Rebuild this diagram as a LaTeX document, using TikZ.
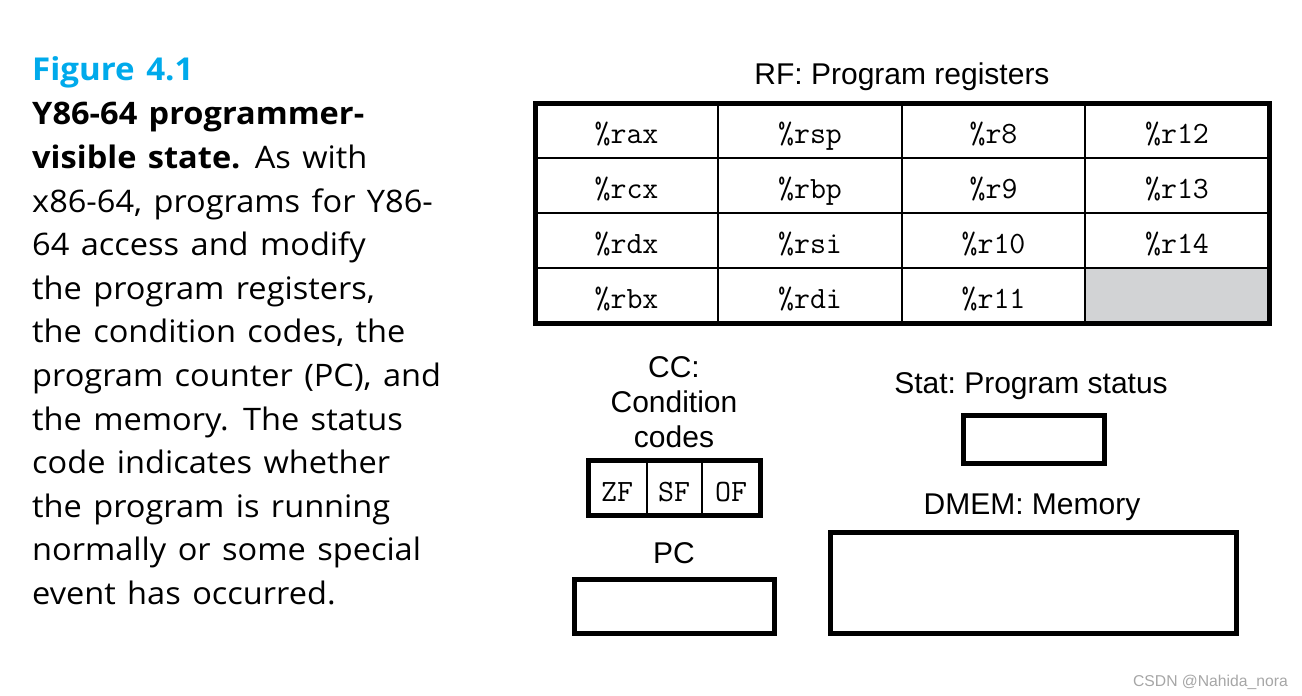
\documentclass[tikz,border=0pt]{standalone}
\usepackage{fontspec}
\usepackage{xcolor}
\usepackage{tikz}
\newfontfamily\capfont[WordSpace=1.35,FakeStretch=1.05]{Open Sans}
\newfontfamily\helv{Liberation Sans}
\definecolor{figcyan}{RGB}{0,170,235}
\definecolor{cellgray}{RGB}{210,211,213}

\begin{document}
\begin{tikzpicture}[x=1pt,y=-1pt,
    reg/.style={anchor=base,inner sep=0pt,font=\fontsize{31}{31}\selectfont\ttfamily},
    lbl/.style={anchor=base,inner sep=0pt,font=\fontsize{30}{35}\selectfont\helv\frenchspacing},
    frame/.style={draw,line width=5pt,inner sep=0pt},
    thin/.style={line width=1.8pt}]
      \useasboundingbox (0,0) rectangle (1302,696);
      % caption
      \node[anchor=base west,inner sep=0pt,text=figcyan,font=\fontsize{31.5}{31.5}\selectfont\capfont\bfseries] (figtitle) at (32,80.7) {Figure 4.1};
      \node[anchor=base west,inner sep=0pt,align=left,font=\fontsize{31}{43.6}\selectfont\capfont] (caption) at (32,604.5) {%
        {\bfseries Y86-64 programmer-}\\
        {\bfseries visible state.} As with\\
        x86-64, programs for Y86-\\
        64 access and modify\\
        the program registers,\\
        the condition codes, the\\
        program counter (PC), and\\
        the memory. The status\\
        code indicates whether\\
        the program is running\\
        normally or some special\\
        event has occurred.};
      % register file
      \fill[cellgray] (1085,268) rectangle (1269,323);
      \foreach \x in {718,902,1085} \draw[thin] (\x,103) -- (\x,323);
      \foreach \y in {158,213,268} \draw[thin] (535,\y) -- (1269,\y);
      \node[frame,minimum width=734,minimum height=220] (rf) at (902,213) {};
      \node[lbl] (rflabel) at (902,84) {RF: Program registers};
      \foreach \nm [count=\k from 0] in {rax,rcx,rdx,rbx,rsp,rbp,rsi,rdi,r8,r9,r10,r11,r12,r13,r14}{
        \pgfmathtruncatemacro\cc{int(\k/4)}
        \pgfmathtruncatemacro\rr{mod(\k,4)}
        \node[reg] (\nm) at ({626.5+183.5*\cc},{143+55*\rr}) {\%\nm};
      }
      % condition codes
      \node[lbl,align=center] (cclabel) at (674,447) {CC:\\Condition\\codes};
      \draw[thin] (646.7,460.5) -- (646.7,515.5);
      \draw[thin] (701.7,460.5) -- (701.7,515.5);
      \node[frame,minimum width=172,minimum height=55] (cc) at (674.5,488) {};
      \node[reg] (zf) at (617,501.7) {ZF};
      \node[reg] (sf) at (674,501.7) {SF};
      \node[reg] (of) at (731,501.7) {OF};
      % pc
      \node[lbl] (pclabel) at (674,563) {PC};
      \node[frame,minimum width=200.5,minimum height=54.5] (pc) at (674.25,606.25) {};
      % status and memory
      \node[lbl] (statlabel) at (1031,393) {Stat: Program status};
      \node[frame,minimum width=141.7,minimum height=48] (stat) at (1033.85,439.5) {};
      \node[lbl] (dmemlabel) at (1032,514) {DMEM: Memory};
      \node[frame,minimum width=406,minimum height=101] (dmem) at (1033.5,582.5) {};
      \node[anchor=base east,inner sep=0pt,text=gray!70,font=\fontsize{15.7}{16}\selectfont\helv] (mark) at (1288,686) {CSDN @Nahida\_nora};
    \end{tikzpicture}
\end{document}
